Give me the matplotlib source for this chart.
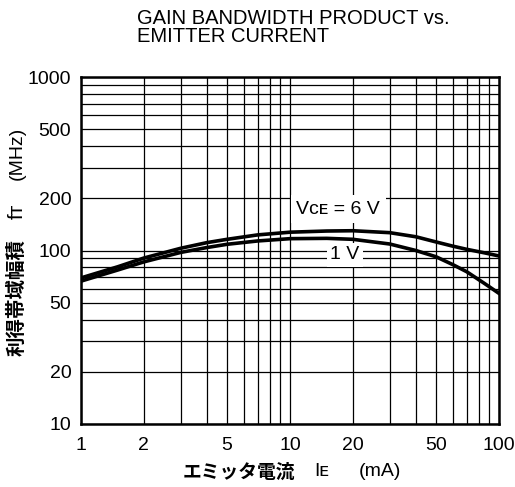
import numpy as np
import matplotlib
matplotlib.use('Agg')
import matplotlib.pyplot as plt

# values (IE in mA, fT in MHz)
ie_ma = [1, 1.5, 2, 3, 4, 5, 7, 10, 15, 20, 30, 40, 50, 60, 70, 85, 100]
ft_6v = [69.5, 80.6, 90.5, 103, 111, 116, 123, 127.5, 129.5, 130, 126.7, 120, 112, 106, 101.6, 97, 93]
ft_1v = [66.6, 77.2, 86, 97.5, 104, 108.6, 113.5, 117, 117.5, 116, 109, 100, 92, 83, 75.5, 64.7, 56.6]

x_ticks = [1, 2, 5, 10, 20, 50, 100]
y_ticks = [10, 20, 50, 100, 200, 500, 1000]

latin = ['Liberation Sans', 'DejaVu Sans']
jp = ['Noto Sans CJK JP', 'DejaVu Sans']

W, H = 515, 487
fig = plt.figure(figsize=(W / 100, H / 100), dpi=100)
ax = fig.add_axes([81 / W, 1 - 424 / H, (499 - 81) / W, (424 - 77) / H])

ax.set_xscale('log')
ax.set_yscale('log')
ax.set_xlim(1, 100)
ax.set_ylim(10, 1000)

# full log grid, every 1..9 of each decade
xg = [m * d for d in (1, 10) for m in range(1, 10)] + [100]
yg = [m * d for d in (10, 100) for m in range(1, 10)] + [1000]
for v in xg:
    ax.axvline(v, color='black', lw=0.9, zorder=1)
for v in yg:
    ax.axhline(v, color='black', lw=0.9, zorder=1)

ax.plot(ie_ma, ft_6v, color='black', lw=2.6, zorder=3, solid_joinstyle='round')
ax.plot(ie_ma, ft_1v, color='black', lw=2.6, zorder=3, solid_joinstyle='round')

ax.set_xticks(x_ticks)
ax.set_xticklabels([str(v) for v in x_ticks])
ax.set_yticks(y_ticks)
ax.set_yticklabels([str(v) for v in y_ticks])
ax.minorticks_off()
ax.tick_params(length=0, labelsize=14)
ax.tick_params(axis='x', pad=9)
ax.tick_params(axis='y', pad=7)
for lab in ax.get_xticklabels() + ax.get_yticklabels():
    lab.set_family(latin)
for s in ax.spines.values():
    s.set_linewidth(1.8)
    s.set_zorder(4)

# curve labels with white background
ax.text(17, 173, 'V\u1d04\u1d07 = 6 V', family=latin, fontsize=14, ha='center', va='center',
        zorder=5, bbox=dict(facecolor='white', edgecolor='none', pad=4))
ax.text(18.3, 94.4, '1 V', family=latin, fontsize=14, ha='center', va='center',
        zorder=5, bbox=dict(facecolor='white', edgecolor='none', pad=2.5))

# title
fig.text(137 / W, 1 - 9 / H, 'GAIN BANDWIDTH PRODUCT vs.\nEMITTER CURRENT', family=latin,
         fontsize=14.5, ha='left', va='top', linespacing=0.92)

# y label pieces
fig.text(17 / W, 1 - 297 / H, '利得帯域幅積', family=jp, fontsize=14, fontweight='bold',
         rotation=90, ha='center', va='center')
fig.text(17 / W, 1 - 211 / H, 'f\u1d1b', family=latin, fontsize=15, rotation=90,
         ha='center', va='center')
fig.text(17 / W, 1 - 153 / H, '(MHz)', family=latin, fontsize=14, rotation=90,
         ha='center', va='center')

# x label pieces
fig.text(239 / W, 1 - 472 / H, 'エミッタ電流', family=jp, fontsize=13.5, fontweight='bold',
         ha='center', va='center')
fig.text(322 / W, 1 - 472 / H, 'I\u1d07', family=latin, fontsize=14, ha='center', va='center')
fig.text(380 / W, 1 - 472 / H, '(mA)', family=latin, fontsize=14, ha='center', va='center')

fig.savefig('out.png', dpi=100)
